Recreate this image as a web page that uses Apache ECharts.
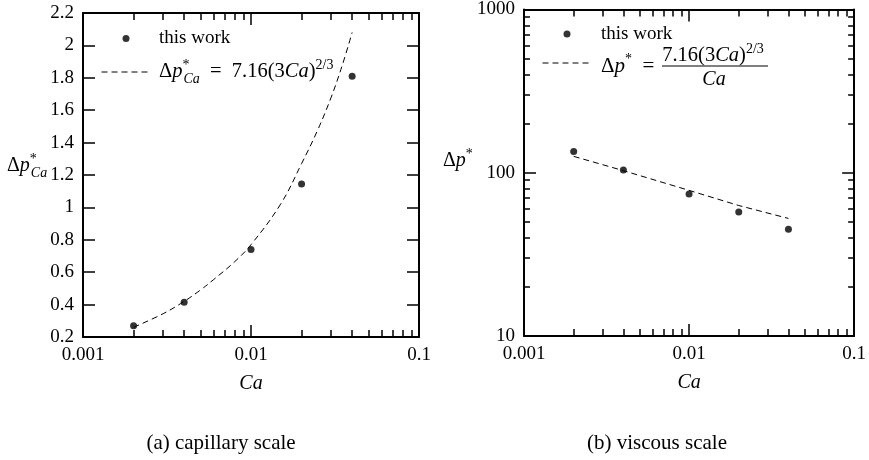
<!DOCTYPE html>
<html><head><meta charset="utf-8">
<script src="https://cdn.jsdelivr.net/npm/echarts@6/dist/echarts.min.js"></script>
<style>html,body{margin:0;padding:0;background:#fff}#c{width:869px;height:460px}</style>
</head><body><div id="c"></div>
<script>
// ---- data ----
const caPoints = [0.002, 0.004, 0.01, 0.02, 0.04];
const capillaryWork = [0.27, 0.415, 0.74, 1.145, 1.81];
const viscousWork = [135, 104, 74, 57.5, 45];
const capillaryFitCa = [0.002, 0.003, 0.004, 0.005, 0.006, 0.008, 0.01, 0.015, 0.02, 0.025, 0.03, 0.035, 0.04];
const capillaryFit = [0.26, 0.344, 0.42, 0.49, 0.555, 0.665, 0.77, 1.02, 1.27, 1.48, 1.68, 1.88, 2.08];
const viscousFitCa = [0.002, 0.004, 0.01, 0.02, 0.04];
const viscousFit = [126, 103, 78, 63, 52.5];
const xRange = [0.001, 0.1];
const capRange = [0.2, 2.2];
const capStep = 0.2;
const viscRange = [10, 1000];

const FONT = 'Liberation Serif';
const zip = (xs, ys) => xs.map((x, i) => [x, ys[i]]);
const black = '#000';
const plain = v => String(+v.toPrecision(6));

function baseAxis(gridIndex, position, showLabel) {
  return {
    gridIndex, position,
    axisLine: { show: true, onZero: false, lineStyle: { color: black, width: 2 } },
    axisTick: { show: true, inside: true, length: 12, lineStyle: { color: black, width: 1.5 } },
    splitLine: { show: false },
    axisLabel: { show: showLabel, color: black, fontFamily: FONT, fontSize: 19, margin: 9, formatter: plain }
  };
}
function logX(gridIndex, position, showLabel) {
  return Object.assign(baseAxis(gridIndex, position, showLabel), {
    type: 'log', logBase: 10, min: xRange[0], max: xRange[1],
    minorTick: { show: true, splitNumber: 9, length: 7, lineStyle: { color: black, width: 1.5 } },
    minorSplitLine: { show: false },
    name: showLabel ? 'Ca' : '', nameLocation: 'middle', nameGap: 37,
    nameTextStyle: { fontFamily: FONT, fontSize: 20, fontStyle: 'italic', color: black }
  });
}
function logY(gridIndex, position, showLabel) {
  return Object.assign(baseAxis(gridIndex, position, showLabel), {
    type: 'log', logBase: 10, min: viscRange[0], max: viscRange[1],
    minorTick: { show: true, splitNumber: 9, length: 6, lineStyle: { color: black, width: 1.5 } },
    minorSplitLine: { show: false }
  });
}

const xAxis = [logX(0, 'bottom', true), logX(0, 'top', false), logX(1, 'bottom', true), logX(1, 'top', false)];
const yAxis = [
  Object.assign(baseAxis(0, 'left', true), { type: 'value', min: capRange[0], max: capRange[1], interval: capStep }),
  Object.assign(baseAxis(0, 'right', false), { type: 'value', min: capRange[0], max: capRange[1], interval: capStep }),
  logY(1, 'left', true),
  logY(1, 'right', false)
];

const CAP_FIT = 'Δp*_Ca = 7.16(3Ca)^(2/3)';
const VIS_FIT = 'Δp* = 7.16(3Ca)^(2/3)/Ca';

const series = [
  { name: 'this work', type: 'scatter', xAxisIndex: 0, yAxisIndex: 0, data: zip(caPoints, capillaryWork),
    symbol: 'circle', symbolSize: 7, itemStyle: { color: black }, z: 5 },
  { name: CAP_FIT, type: 'line', xAxisIndex: 0, yAxisIndex: 0, data: zip(capillaryFitCa, capillaryFit),
    symbol: 'none', smooth: 0.4, lineStyle: { color: black, width: 1, type: [6, 4] }, itemStyle: { color: black } },
  { name: 'this work', type: 'scatter', xAxisIndex: 2, yAxisIndex: 2, data: zip(caPoints, viscousWork),
    symbol: 'circle', symbolSize: 7, itemStyle: { color: black }, z: 5 },
  { name: VIS_FIT, type: 'line', xAxisIndex: 2, yAxisIndex: 2, data: zip(viscousFitCa, viscousFit),
    symbol: 'none', lineStyle: { color: black, width: 1, type: [6, 4] }, itemStyle: { color: black } }
];

function legDot(left, top, padLeft) {
  return {
    data: ['this work'], left, top, orient: 'vertical', padding: 0, itemWidth: 48, itemHeight: 7,
    selectedMode: false, icon: 'circle',
    textStyle: { fontFamily: FONT, fontSize: 19, color: black, padding: [0, 0, 0, padLeft] }
  };
}
function legLine(name, left, top) {
  return {
    data: [name], left, top, orient: 'vertical', padding: 0, itemWidth: 48, itemHeight: 6,
    selectedMode: false, formatter: ' ',
    itemStyle: { opacity: 0, color: 'rgba(0,0,0,0)', borderWidth: 0 },
    lineStyle: { color: black, width: 1, type: [6, 4] },
    textStyle: { fontFamily: FONT, fontSize: 19, color: black }
  };
}

function makeRich(big, small) {
  return {
    n: { fontFamily: FONT, fontSize: big, color: black, lineHeight: 28 },
    i: { fontFamily: FONT, fontSize: big, fontStyle: 'italic', color: black, lineHeight: 28 },
    sup: { fontFamily: FONT, fontSize: small, color: black, lineHeight: 12, verticalAlign: 'top' },
    supz: { fontFamily: FONT, fontSize: small, color: black, lineHeight: 12, verticalAlign: 'top', width: 1 },
    sub: { fontFamily: FONT, fontSize: small, fontStyle: 'italic', color: black, lineHeight: 12, verticalAlign: 'bottom' }
  };
}
function rt(text, x, y, align, big, small) {
  return { type: 'text', style: { text, x, y, rich: makeRich(big || 19, small || 13), align: align || 'left',
    verticalAlign: 'middle', fontFamily: FONT, fontSize: big || 19, fill: black } };
}

const graphic = [
  // y-axis names
  rt('{n|Δ}{i|p}{supz|*}{sub|Ca}', 7, 166, 'left', 20, 14),
  rt('{n|Δ}{i|p}{sup|*}', 443, 161, 'left', 20, 14),
  // legend formulas
  rt('{n|Δ}{i|p}{supz|*}{sub|Ca}{n|  =  7.16(3}{i|Ca}{n|)}{sup|2/3}', 159, 72, 'left', 20.5, 14),
  rt('{n|Δ}{i|p}{sup|*}{n|  =}', 601, 66, 'left', 21, 14),
  rt('{n|7.16(3}{i|Ca}{n|)}{sup|2/3}', 713, 56, 'center', 20.5, 14),
  { type: 'line', shape: { x1: 662, y1: 66, x2: 768, y2: 66 }, style: { stroke: black, lineWidth: 1.2 } },
  rt('{i|Ca}', 714, 80, 'center', 20, 14),
  // captions
  { type: 'text', style: { text: '(a) capillary scale', x: 221, y: 443, align: 'center', verticalAlign: 'middle',
    fontFamily: FONT, fontSize: 21, fill: black } },
  { type: 'text', style: { text: '(b) viscous scale', x: 657, y: 443, align: 'center', verticalAlign: 'middle',
    fontFamily: FONT, fontSize: 21, fill: black } }
];

const chart = echarts.init(document.getElementById('c'), null, { renderer: 'canvas' });
chart.setOption({
  animation: false,
  backgroundColor: '#fff',
  grid: [
    { left: 83, top: 13, width: 336, height: 324, containLabel: false },
    { left: 524, top: 8, width: 331, height: 328, containLabel: false }
  ],
  xAxis, yAxis, series,
  legend: [
    legDot(122.5, 29, 4),
    legLine(CAP_FIT, 101, 62.5),
    legDot(563.5, 24.5, 5),
    legLine(VIS_FIT, 542, 53.5)
  ],
  graphic
});
</script></body></html>
